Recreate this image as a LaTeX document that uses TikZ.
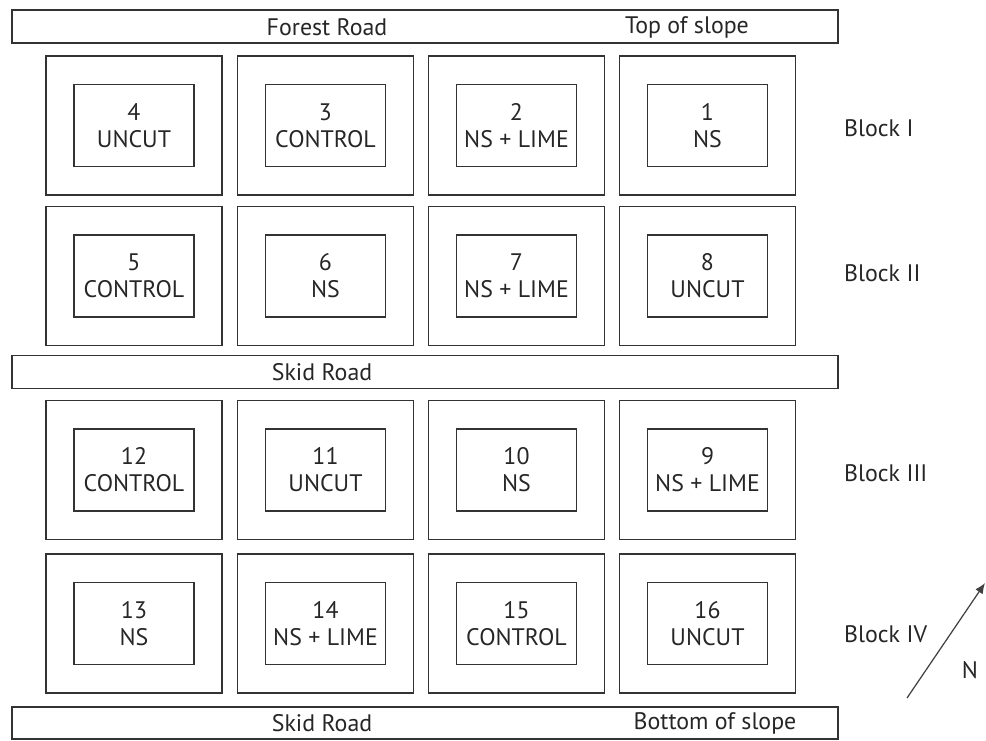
\documentclass[tikz,border=0pt]{standalone}
\usepackage{fontspec}
\setmainfont{PT Sans}
\usetikzlibrary{arrows.meta, positioning}

\begin{document}
\begin{tikzpicture}[x=0.02cm, y=-0.02cm,
		line/.style={draw=black!80, line width=0.8pt},
		road/.style={line, minimum width=16.52cm, minimum height=0.66cm, inner sep=0pt},
		plotbox/.style={line, minimum width=3.52cm, minimum height=2.78cm, inner sep=0pt},
		subplot/.style={line, minimum width=2.4cm, minimum height=1.64cm, inner sep=0pt, align=center, text=black!85, font=\fontsize{13.6}{15.4}\selectfont},
		lbl/.style={text=black!85, font=\fontsize{13.6}{15}\selectfont}]
	\useasboundingbox (0,0) rectangle (986,740);
	% roads
	\node[road] (forest) at (425,26.5) {};
	\node[lbl] (forestlbl) at (327,27) {Forest Road};
	\node[lbl] (toplbl) at (687,27) {Top of slope};
	\node[road] (skid) at (425,372) {};
	\node[lbl] (skidlbl) at (322,372) {Skid Road};
	\node[road, minimum height=0.64cm] (skidlow) at (425,723) {};
	\node[lbl] (skidlowlbl) at (322,723) {Skid Road};
	\node[lbl] (bottomlbl) at (715,723) {Bottom of slope};
	% Block I
	\node[plotbox] (o4) at (134,125.5) {};
	\node[subplot] (p4) at (o4.center) {4\\UNCUT};
	\node[plotbox] (o3) at (325.5,125.5) {};
	\node[subplot] (p3) at (o3.center) {3\\CONTROL};
	\node[plotbox] (o2) at (516.5,125.5) {};
	\node[subplot] (p2) at (o2.center) {2\\NS + LIME};
	\node[plotbox] (o1) at (707.5,125.5) {};
	\node[subplot] (p1) at (o1.center) {1\\NS};
	\node[lbl, anchor=west] (blk1) at (838,128) {Block I};
	% Block II
	\node[plotbox] (o5) at (134,276) {};
	\node[subplot] (p5) at (o5.center) {5\\CONTROL};
	\node[plotbox] (o6) at (325.5,276) {};
	\node[subplot] (p6) at (o6.center) {6\\NS};
	\node[plotbox] (o7) at (516.5,276) {};
	\node[subplot] (p7) at (o7.center) {7\\NS + LIME};
	\node[plotbox] (o8) at (707.5,276) {};
	\node[subplot] (p8) at (o8.center) {8\\UNCUT};
	\node[lbl, anchor=west] (blk2) at (838,273) {Block II};
	% Block III
	\node[plotbox] (o12) at (134,470) {};
	\node[subplot] (p12) at (o12.center) {12\\CONTROL};
	\node[plotbox] (o11) at (325.5,470) {};
	\node[subplot] (p11) at (o11.center) {11\\UNCUT};
	\node[plotbox] (o10) at (516.5,470) {};
	\node[subplot] (p10) at (o10.center) {10\\NS};
	\node[plotbox] (o9) at (707.5,470) {};
	\node[subplot] (p9) at (o9.center) {9\\NS + LIME};
	\node[lbl, anchor=west] (blk3) at (838,473) {Block III};
	% Block IV
	\node[plotbox] (o13) at (134,623.5) {};
	\node[subplot] (p13) at (o13.center) {13\\NS};
	\node[plotbox] (o14) at (325.5,623.5) {};
	\node[subplot] (p14) at (o14.center) {14\\NS + LIME};
	\node[plotbox] (o15) at (516.5,623.5) {};
	\node[subplot] (p15) at (o15.center) {15\\CONTROL};
	\node[plotbox] (o16) at (707.5,623.5) {};
	\node[subplot] (p16) at (o16.center) {16\\UNCUT};
	\node[lbl, anchor=west] (blk4) at (838,634) {Block IV};
	% north arrow
	\coordinate (ntail) at (907,698);
	\coordinate (ntip) at (985,583);
	\draw[black!75, line width=0.7pt, -{Latex[length=6pt, width=5pt]}] (ntail) -- (ntip);
	\node[lbl] (north) at (970,670) {N};
\end{tikzpicture}
\end{document}
